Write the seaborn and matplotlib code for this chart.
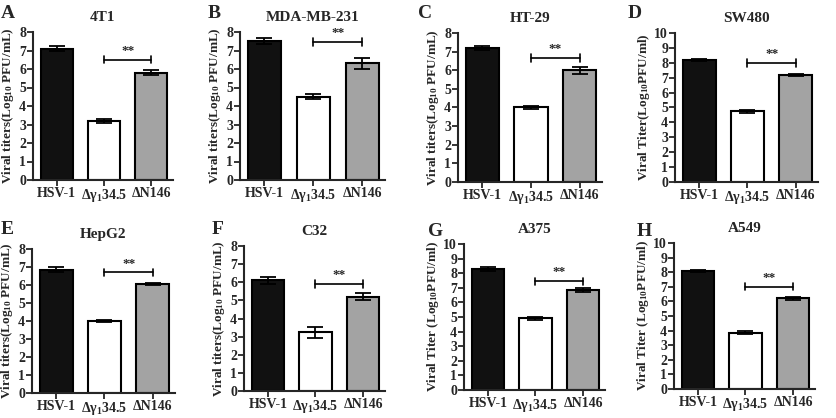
import numpy as np
import pandas as pd
import seaborn as sns
import matplotlib.pyplot as plt

sns.set_style('ticks')
plt.rcParams['font.family'] = ['Liberation Serif', 'DejaVu Serif']
plt.rcParams['font.weight'] = 'bold'
plt.rcParams['mathtext.default'] = 'regular'

viruses = ['HSV-1', 'Δγ$_1$34.5', 'ΔN146']
bar_colors = ['#111111', '#ffffff', '#a3a3a3']

letters = ['A', 'B', 'C', 'D', 'E', 'F', 'G', 'H']
cells = ['4T1', 'MDA-MB-231', 'HT-29', 'SW480', 'HepG2', 'C32', 'A375', 'A549']

# mean titers (log10 PFU/mL) and error
mean_4t1 = [7.1, 3.2, 5.8]
err_4t1 = [0.15, 0.1, 0.15]
mean_mda = [7.5, 4.5, 6.3]
err_mda = [0.15, 0.13, 0.3]
mean_ht29 = [7.2, 4.0, 6.0]
err_ht29 = [0.12, 0.1, 0.2]
mean_sw480 = [8.2, 4.75, 7.2]
err_sw480 = [0.08, 0.1, 0.06]
mean_hepg2 = [6.85, 4.0, 6.05]
err_hepg2 = [0.15, 0.05, 0.05]
mean_c32 = [6.1, 3.25, 5.2]
err_c32 = [0.2, 0.3, 0.2]
mean_a375 = [8.3, 4.9, 6.85]
err_a375 = [0.12, 0.08, 0.15]
mean_a549 = [8.1, 3.85, 6.2]
err_a549 = [0.08, 0.1, 0.1]

# height of the ** bracket in each panel
sig_height = [6.5, 7.45, 6.65, 8.0, 6.7, 5.9, 7.45, 7.0]
ymax = [8, 8, 8, 10, 8, 8, 10, 10]

ylab_a = 'Viral titers(Log$_{10}$ PFU/mL)'
ylab_d = 'Viral Titer(Log$_{10}$PFU/ml)'
ylab_g = 'Viral Titer (Log$_{10}$PFU/ml)'
ylabels = [ylab_a, ylab_a, ylab_a, ylab_d, ylab_a, ylab_a, ylab_g, ylab_g]

means = [mean_4t1, mean_mda, mean_ht29, mean_sw480, mean_hepg2, mean_c32, mean_a375, mean_a549]
errs = [err_4t1, err_mda, err_ht29, err_sw480, err_hepg2, err_c32, err_a375, err_a549]

# axes boxes in pixels: left, top, right, bottom
W, H = 836, 418
boxes = [(33, 32, 173, 180), (240, 32, 385, 180), (458, 33, 602, 182), (675, 33, 818, 182),
         (32, 249, 175, 393), (244, 246, 385, 391), (464, 244, 605, 390), (674, 243, 815, 389)]
letter_pos = [(1, 5), (208, 5), (418, 5), (628, 5), (1, 221), (212, 221), (428, 223), (637, 223)]

fig = plt.figure(figsize=(W / 100, H / 100), dpi=100)

for i in range(8):
    l, t, r, b = boxes[i]
    ax = fig.add_axes([l / W, 1 - b / H, (r - l) / W, (b - t) / H])
    df = pd.DataFrame({'virus': viruses, 'titer': means[i]})
    sns.barplot(data=df, x='virus', y='titer', hue='virus', palette=bar_colors,
                edgecolor='black', linewidth=1.5, width=0.68, legend=False,
                errorbar=None, ax=ax)
    ax.errorbar(np.arange(3), means[i], yerr=errs[i], fmt='none', ecolor='black',
                elinewidth=1.3, capsize=5.5, capthick=1.3)

    h = sig_height[i]
    d = 0.025 * ymax[i]
    ax.plot([1, 2], [h, h], color='black', lw=1.2)
    ax.plot([1, 1], [h - d, h + d], color='black', lw=1.2)
    ax.plot([2, 2], [h - d, h + d], color='black', lw=1.2)
    ax.text(1.5, h + 0.02 * ymax[i], '**', ha='center', va='bottom', fontsize=9.5, fontweight='bold')

    ax.set_xlim(-0.5, 2.46)
    ax.set_ylim(0, ymax[i])
    ax.set_yticks(range(0, ymax[i] + 1))
    ax.set_xlabel('')
    ax.set_ylabel(ylabels[i], fontsize=9.5, fontweight='bold', labelpad=2)
    ax.set_title(cells[i], fontsize=11, fontweight='bold', pad=8)
    ax.tick_params(axis='both', labelsize=10, width=1.3, length=4, pad=1)
    for lab in ax.get_xticklabels() + ax.get_yticklabels():
        lab.set_fontweight('bold')
    sns.despine(ax=ax)
    for s in ['left', 'bottom']:
        ax.spines[s].set_linewidth(1.5)
    lx, ly = letter_pos[i]
    fig.text(lx / W, 1 - ly / H, letters[i], fontsize=14, fontweight='bold', va='top', ha='left')

fig.savefig('out.png', dpi=100)
